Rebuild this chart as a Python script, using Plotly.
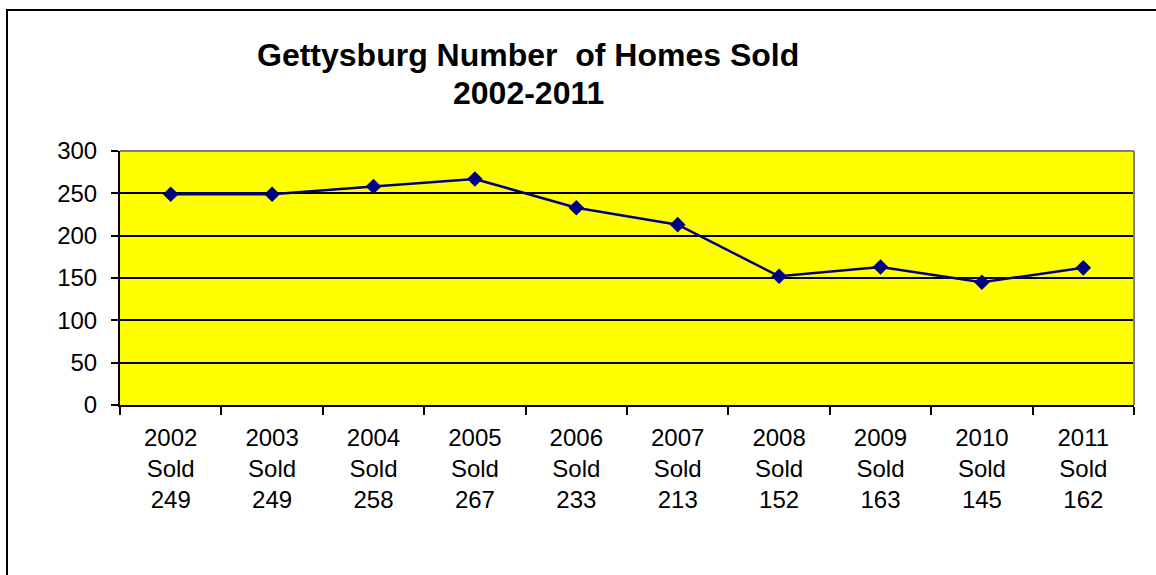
import plotly.graph_objects as go

years = ["2002", "2003", "2004", "2005", "2006", "2007", "2008", "2009", "2010", "2011"]
sold = [249, 249, 258, 267, 233, 213, 152, 163, 145, 162]
categories = [f"{y}<br>Sold<br>{v}" for y, v in zip(years, sold)]
title_line1 = "Gettysburg Number\u00a0\u00a0of Homes Sold"
title_line2 = "2002-2011"

W, H = 1156, 575
L, R, T, B = 120, 1134, 151, 405  # plot area in page pixels
pw, ph = R - L, B - T

def px(x):
    return (x - L) / pw

def py(y):
    return (B - y) / ph

FONT = "Liberation Sans, Arial, sans-serif"

fig = go.Figure()
fig.add_trace(go.Scatter(
    x=categories, y=sold, mode="lines+markers",
    line=dict(color="#000080", width=2.5),
    marker=dict(symbol="diamond", size=12, color="#000080"),
    showlegend=False, hoverinfo="skip", cliponaxis=False,
))

fig.update_layout(
    width=W, height=H,
    margin=dict(l=L, r=W - R, t=T, b=H - B),
    paper_bgcolor="white",
    plot_bgcolor="#FFFF00",
    font=dict(family=FONT, size=24, color="black"),
    xaxis=dict(
        type="category", tickson="boundaries",
        range=[-0.5, len(categories) - 0.5],
        ticks="outside", ticklen=8, tickwidth=2, tickcolor="black",
        showline=True, linecolor="black", linewidth=2,
        showgrid=False, zeroline=False, fixedrange=True,
        tickfont=dict(family=FONT, size=24, color="black"),
        ticklabelstandoff=10,
    ),
    yaxis=dict(
        range=[0, 300], dtick=50,
        ticks="outside", ticklen=7, tickwidth=2, tickcolor="black",
        showline=True, linecolor="black", linewidth=2,
        showgrid=True, gridcolor="black", gridwidth=2,
        zeroline=False, fixedrange=True,
        tickfont=dict(family=FONT, size=24, color="black"),
        ticklabelstandoff=9,
    ),
    shapes=[
        dict(type="rect", xref="paper", yref="paper",
             x0=px(7), x1=px(1170), y0=py(10), y1=py(600),
             line=dict(color="black", width=2), fillcolor="rgba(0,0,0,0)", layer="above"),
        dict(type="line", xref="paper", yref="paper",
             x0=0, x1=1, y0=1, y1=1, line=dict(color="#808080", width=2)),
        dict(type="line", xref="paper", yref="paper",
             x0=1, x1=1, y0=0, y1=1, line=dict(color="#808080", width=2)),
    ],
    annotations=[
        dict(text=f"<b>{title_line1}</b>", xref="paper", yref="paper",
             x=px(528), y=py(55), xanchor="center", yanchor="middle",
             showarrow=False, font=dict(family=FONT, size=32, color="black")),
        dict(text=f"<b>{title_line2}</b>", xref="paper", yref="paper",
             x=px(528), y=py(93), xanchor="center", yanchor="middle",
             showarrow=False, font=dict(family=FONT, size=32, color="black")),
    ],
)

fig.write_html(
    "out.html",
    config={"displayModeBar": False, "staticPlot": True},
    post_script="document.body.style.margin='0';document.body.style.overflow='hidden';",
)
